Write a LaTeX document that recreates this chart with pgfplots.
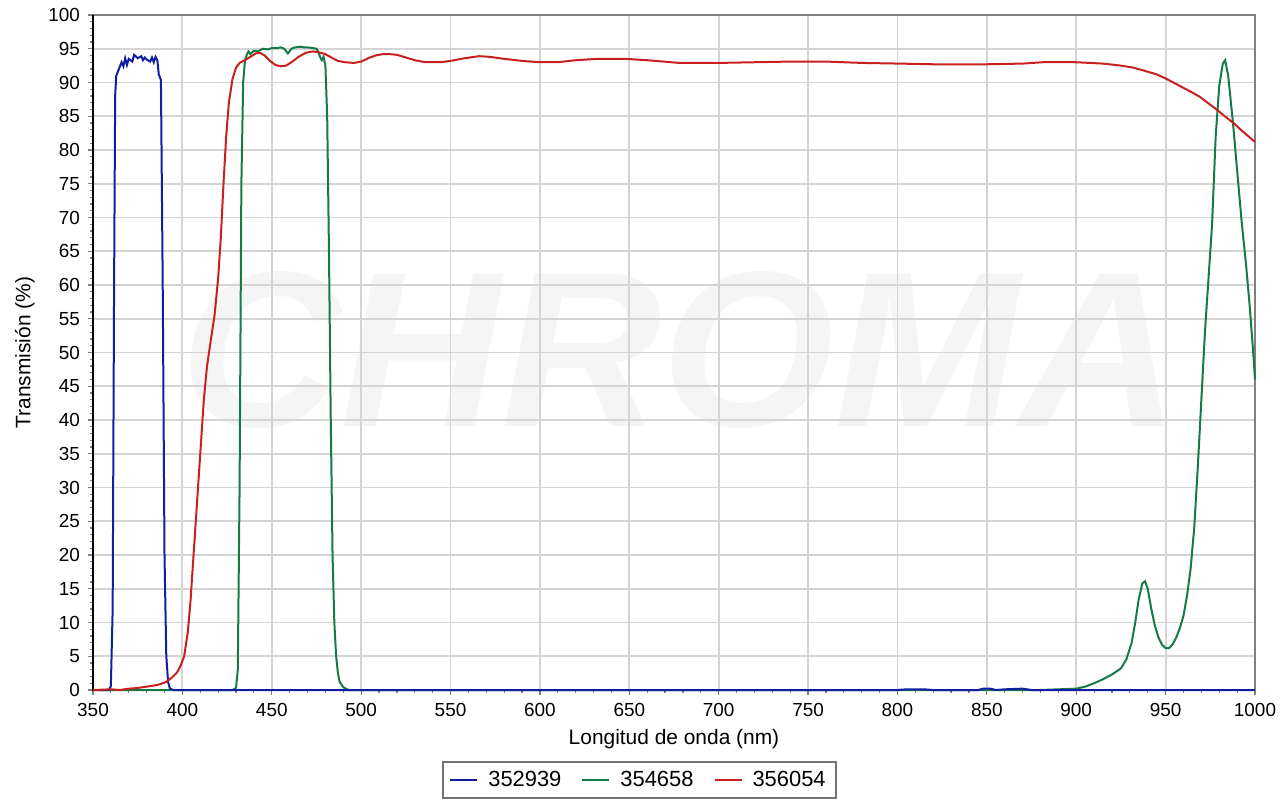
\documentclass[border=0pt]{standalone}
\usepackage{fontspec}
\setmainfont{Liberation Sans}
\usepackage{pgfplots}
\pgfplotsset{compat=1.18}
\usepackage{pgfplotstable}
\definecolor{blueL}{RGB}{16,30,160}
\definecolor{greenL}{RGB}{22,122,72}
\definecolor{redL}{RGB}{200,32,28}

\pgfplotstableread{
x y
350 0
359 0
360 0.6
361 12
361.8 60
362.4 88
363 91
364.5 92
366 93
367 92.4
368 93.6
369 92.6
370 93.5
372 93.1
373 94.1
375 93.6
377 93.9
378 93.3
379 93.7
380 93.4
382 93.1
383 93.7
384 93.0
385 93.8
386 93.3
386.8 91.2
388 90.4
389 60
390 20
391 5
392 1.2
393 0.2
395 0
800 0
805 0.1
815 0.1
820 0
845 0
848 0.2
852 0.2
855 0
860 0.1
870 0.2
875 0
1000 0
}\blueT

\pgfplotstableread{
x y
350 0
428 0
430 0.3
431 3
432 30
433 75
434 90
435 93.2
436 94.1
437 94.6
438 94.2
440 94.7
442 94.6
445 95.0
448 94.9
450 95.1
453 95.1
455 95.2
457 95.0
459 94.3
461 95.0
463 95.2
466 95.3
468 95.2
470 95.2
473 95.1
475 95.0
476 94.6
477 93.8
478 93.3
479 93.8
480 92.5
481 85
482 65
483 40
484 20
485 10
486 5
487 2.5
488 1.2
490 0.4
493 0
880 0
900 0.2
905 0.5
910 1.0
915 1.6
920 2.3
925 3.2
928 4.5
931 7
933 10
935 13.5
937 15.8
938.5 16.1
940 15
942 12
944 9.5
946 7.8
948 6.7
950 6.2
952 6.2
954 6.8
956 7.8
958 9.2
960 11
962 14
964 18
966 24
968 33
970 43
972 53
974 61
976 69
978 82
980 89.5
982 92.8
983.3 93.3
985 91
987.7 84
990 77
992.6 69.2
995 63
997 57
999 50
1000 46
}\greenT

\pgfplotstableread{
x y
350 0
360 0.1
365 0
370 0.2
375 0.3
380 0.5
385 0.7
388 0.9
391 1.2
394 1.8
397 2.6
399 3.6
401 5
403 8.5
404.5 13
406 19
408 27
410 35
412 43
413.8 48
416 52
418 55.5
420 61
421.5 67
423 75
424.5 82
426 87
428 90.5
430 92.2
432 92.9
435 93.3
438 93.8
441 94.3
443.5 94.4
446 94.0
449 93.2
452 92.6
455 92.4
458 92.5
461 93.0
465 93.8
469 94.4
473 94.6
476 94.5
480 94.2
484 93.6
487 93.2
491 93.0
496 92.9
500 93.1
504 93.6
508 94.0
512 94.2
516 94.2
520 94.1
525 93.7
530 93.3
536 93.0
544 93.0
550 93.2
558 93.6
566 93.9
572 93.8
580 93.5
590 93.2
600 93.0
610 93.0
620 93.3
632 93.5
648 93.5
660 93.3
678 92.9
700 92.9
720 93.0
740 93.1
760 93.1
780 92.9
801 92.8
820 92.7
850 92.7
870 92.8
881 93.0
900 93.0
915 92.8
925 92.5
932 92.2
940 91.6
945 91.2
950 90.6
955 89.9
960 89.2
965 88.5
969 87.9
974 86.9
979 85.9
984 84.8
988 84.0
992 83.0
996 82.1
1000 81.2
}\redT

\begin{document}
\begin{tikzpicture}
\node[text=black!4, font=\fontsize{111bp}{111bp}\selectfont\bfseries\itshape, inner sep=0pt] at (293.5bp,170bp) {CHROMA};
\begin{axis}[
  scale only axis,
  width=581bp, height=337.5bp,
  xmin=350, xmax=1000, ymin=0, ymax=100,
  xtick={350,400,...,1000},
  ytick={0,5,...,100},
  minor x tick num=4,
  minor y tick num=4,
  xtick pos=bottom, ytick pos=left,
  tick align=outside,
  major tick length=2.5bp,
  minor tick length=1.5bp,
  every tick/.style={gray, line width=0.6bp},
  grid=major,
  major grid style={black!17, line width=0.9bp},
  axis line style={draw=black!50, line width=1bp},
  clip=false,
  /pgf/number format/assume math mode=true,
  /pgf/number format/set thousands separator={},
  ticklabel style={font=\fontsize{9.5}{11}\selectfont},
  xticklabel style={yshift=-0.5bp},
  yticklabel style={xshift=-0.5bp},
  xlabel={Longitud de onda (nm)},
  ylabel={Transmisión (\%)},
  xlabel style={font=\fontsize{10.5}{12}\selectfont, yshift=0.5bp},
  ylabel style={font=\fontsize{10.5}{12}\selectfont, yshift=0bp},
  legend columns=3,
  legend style={at={(0.4703,-0.1333)}, anchor=center, draw=black!55, line width=0.9bp,
    font=\fontsize{11}{13}\selectfont, inner xsep=3bp, inner ysep=2.5bp,
    /tikz/every odd column/.append style={column sep=3bp},
    /tikz/every even column/.append style={column sep=8bp}},
  legend image code/.code={\draw[#1, line width=1bp] (0bp,0bp) -- (13.5bp,0bp);},
]
\draw[black, line width=1.1bp] (rel axis cs:0,1) -- (rel axis cs:0,0) -- (rel axis cs:1,0);
\addplot[greenL, line width=1bp, forget plot] table[x=x,y=y] {\greenT};
\addplot[blueL, line width=1bp, forget plot] table[x=x,y=y] {\blueT};
\addplot[redL, line width=1bp, forget plot] table[x=x,y=y] {\redT};
\addlegendimage{blueL}
\addlegendentry{352939}
\addlegendimage{greenL}
\addlegendentry{354658}
\addlegendimage{redL}
\addlegendentry{356054}
\end{axis}
\pgfresetboundingbox
\path[use as bounding box] (-46.5bp,-55bp) rectangle (593.5bp,345bp);
\end{tikzpicture}
\end{document}
